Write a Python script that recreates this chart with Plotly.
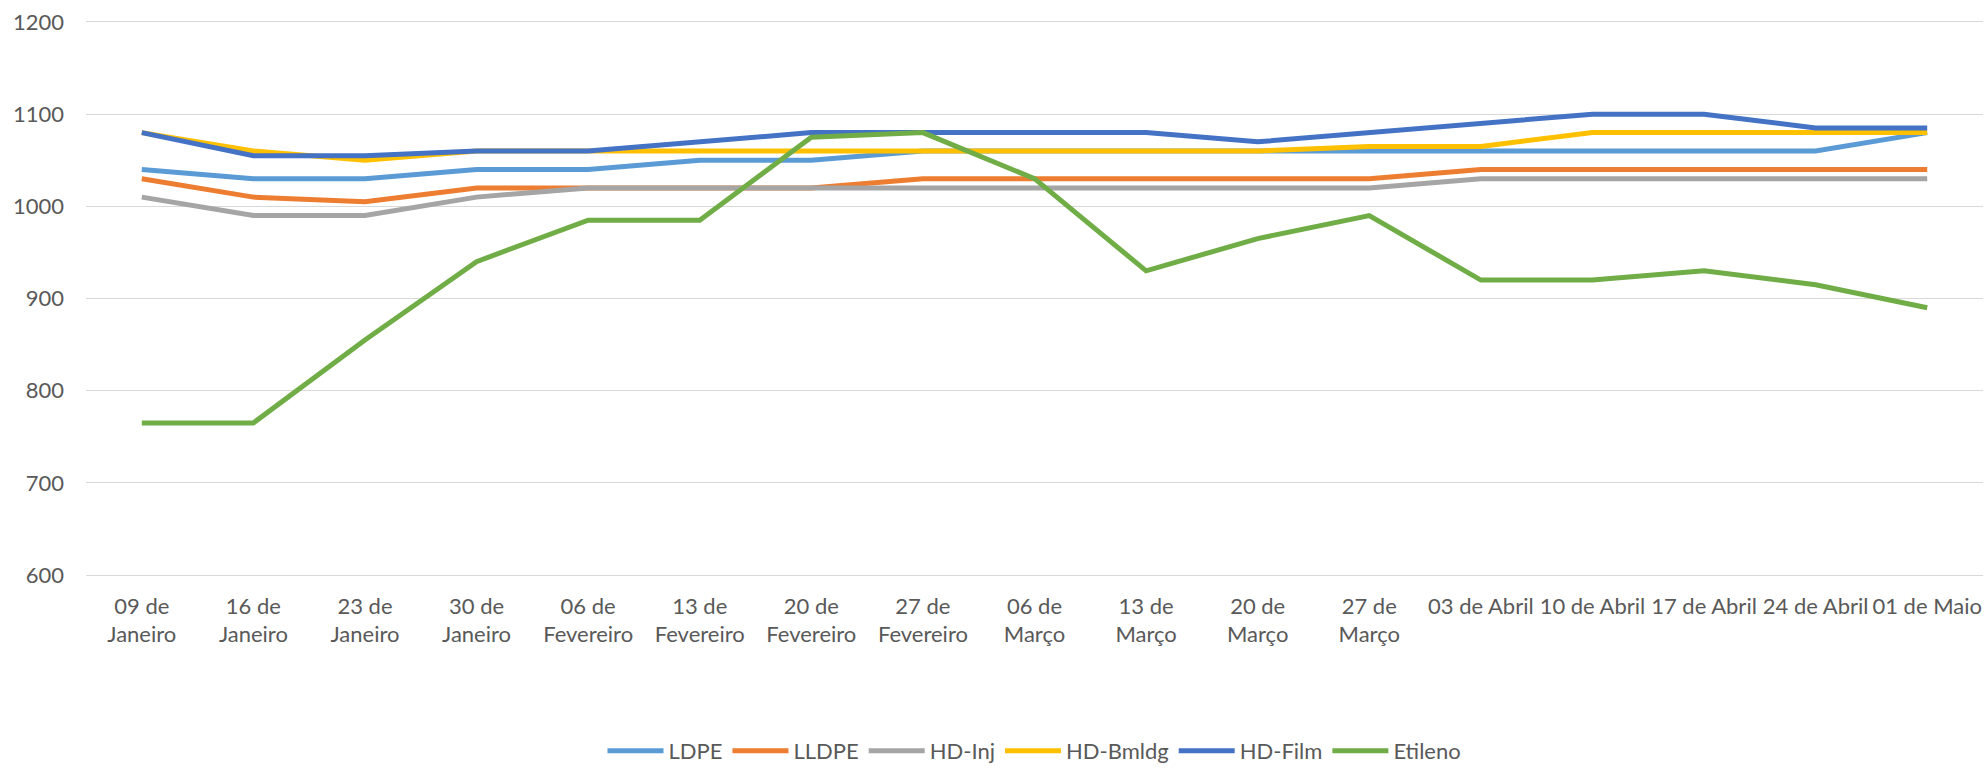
import plotly.graph_objects as go

categories = ["09 de<br>Janeiro", "16 de<br>Janeiro", "23 de<br>Janeiro", "30 de<br>Janeiro",
              "06 de<br>Fevereiro", "13 de<br>Fevereiro", "20 de<br>Fevereiro", "27 de<br>Fevereiro",
              "06 de<br>Março", "13 de<br>Março", "20 de<br>Março", "27 de<br>Março",
              "03 de Abril", "10 de Abril", "17 de Abril", "24 de Abril", "01 de Maio"]

ldpe = [1040, 1030, 1030, 1040, 1040, 1050, 1050, 1060, 1060, 1060, 1060, 1060, 1060, 1060, 1060, 1060, 1080]
lldpe = [1030, 1010, 1005, 1020, 1020, 1020, 1020, 1030, 1030, 1030, 1030, 1030, 1040, 1040, 1040, 1040, 1040]
hd_inj = [1010, 990, 990, 1010, 1020, 1020, 1020, 1020, 1020, 1020, 1020, 1020, 1030, 1030, 1030, 1030, 1030]
hd_bmldg = [1080, 1060, 1050, 1060, 1060, 1060, 1060, 1060, 1060, 1060, 1060, 1065, 1065, 1080, 1080, 1080, 1080]
hd_film = [1080, 1055, 1055, 1060, 1060, 1070, 1080, 1080, 1080, 1080, 1070, 1080, 1090, 1100, 1100, 1085, 1085]
etileno = [765, 765, 855, 940, 985, 985, 1075, 1080, 1030, 930, 965, 990, 920, 920, 930, 915, 890]

series_names = ["LDPE", "LLDPE", "HD-Inj", "HD-Bmldg", "HD-Film", "Etileno"]
series_values = [ldpe, lldpe, hd_inj, hd_bmldg, hd_film, etileno]
colors = ["#5B9BD5", "#ED7D31", "#A5A5A5", "#FFC000", "#4472C4", "#70AD47"]

y_ticks = [600, 700, 800, 900, 1000, 1100, 1200]

FONT = "Lato, Liberation Sans, Arial, sans-serif"
FSIZE = 22
GRID = "#D9D9D9"
TXT = "#595959"

fig = go.Figure()
for name, vals, col in zip(series_names, series_values, colors):
    fig.add_trace(go.Scatter(x=list(range(len(categories))), y=vals, name=name, mode="lines",
                             line=dict(color=col, width=5)))

fig.update_layout(
    width=1987, height=770,
    margin=dict(l=86, r=4, t=22, b=195, autoexpand=False),
    paper_bgcolor="white", plot_bgcolor="white",
    font=dict(family=FONT, size=FSIZE, color=TXT),
    showlegend=True,
    legend=dict(orientation="h", x=0.5, xanchor="center", y=-0.318, yanchor="middle",
                font=dict(family=FONT, size=FSIZE, color=TXT), itemwidth=56,
                tracegroupgap=0),
    xaxis=dict(tickmode="array", tickvals=list(range(len(categories))), ticktext=categories,
               range=[-0.5, len(categories) - 0.5], showgrid=False, zeroline=False,
               showline=True, linecolor=GRID, linewidth=1.3, mirror=True,
               ticks="", tickangle=0, ticklabelstandoff=11,
               tickfont=dict(family=FONT, size=FSIZE, color=TXT)),
    yaxis=dict(range=[600, 1200], tickvals=y_ticks, showgrid=True, gridcolor=GRID,
               gridwidth=1.3, zeroline=False, showline=False, ticks="",
               ticklabelstandoff=21,
               tickfont=dict(family=FONT, size=FSIZE, color=TXT)),
)

fig.write_html("out.html", config={"displayModeBar": False},
               post_script="document.body.style.margin='0';document.body.style.overflow='hidden';")
